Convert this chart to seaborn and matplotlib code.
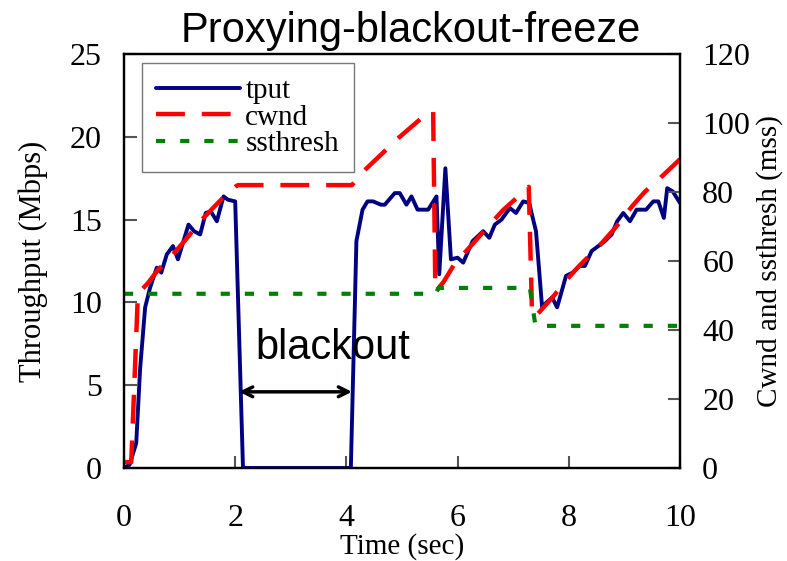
import matplotlib
matplotlib.use("Agg")
import matplotlib.pyplot as plt
import seaborn as sns

# ---- data ----
tput_t = [0, 0.1, 0.22, 0.29, 0.38, 0.47, 0.59, 0.67, 0.77, 0.88, 0.97, 1.16, 1.26,
          1.37, 1.47, 1.56, 1.67, 1.79, 1.87, 2.0, 2.14, 4.08, 4.18, 4.29, 4.38, 4.48,
          4.62, 4.69, 4.87, 4.96, 5.08, 5.17, 5.28, 5.47, 5.62, 5.67, 5.78, 5.88, 6.0,
          6.1, 6.27, 6.46, 6.57, 6.67, 6.79, 6.94, 7.05, 7.18, 7.29, 7.33, 7.41, 7.52,
          7.6, 7.7, 7.79, 7.95, 8.07, 8.19, 8.29, 8.41, 8.53, 8.65, 8.77, 8.87, 8.98,
          9.1, 9.22, 9.39, 9.52, 9.61, 9.71, 9.77, 9.87, 10.0]
tput_v = [0, 0.2, 1.5, 6.0, 9.7, 10.9, 12.1, 11.8, 12.9, 13.4, 12.6, 14.7, 14.3,
          14.1, 15.4, 15.5, 14.9, 16.4, 16.2, 16.1, 0, 0, 13.7, 15.6, 16.1, 16.1,
          15.9, 15.9, 16.6, 16.6, 15.9, 16.4, 15.6, 15.6, 16.4, 11.7, 18.1, 12.6, 12.7,
          12.4, 13.7, 14.3, 13.9, 14.7, 15.0, 15.7, 15.4, 16.1, 16.0, 15.4, 14.3, 9.7,
          10.0, 10.3, 9.7, 11.6, 11.8, 12.2, 12.2, 13.1, 13.4, 13.7, 14.1, 14.9, 15.4,
          14.9, 15.6, 15.6, 16.1, 16.1, 15.1, 16.9, 16.7, 16.0]

cwnd_t = [0, 0.13, 0.25, 0.43, 0.61, 0.83, 1.1, 1.4, 1.76, 2.0, 2.05, 4.1, 4.3, 4.66,
          4.96, 5.35, 5.56, 5.6, 5.75, 5.95, 6.28, 6.52, 6.82, 7.12, 7.28, 7.34, 7.42,
          7.72, 7.96, 8.2, 8.56, 8.83, 9.13, 9.37, 9.64, 10.0]
cwnd_v = [1.7, 1.7, 50.5, 53.6, 57.4, 61, 66, 72, 78, 81.5, 82, 82, 85.9, 91.4,
          96, 101.4, 103.5, 51, 54, 59.3, 65.1, 69.5, 74.8, 79.1, 81.5, 44, 44.3,
          49.7, 54.5, 58.8, 64.6, 69.5, 75.7, 80.1, 84, 89.5]

ssth_t = [0, 5.6, 5.66, 7.3, 7.4, 10.0]
ssth_v = [50.5, 50.5, 52.2, 52.2, 41.2, 41.2]

x_ticks = [0, 2, 4, 6, 8, 10]
left_ticks = [0, 5, 10, 15, 20, 25]
right_ticks = [0, 20, 40, 60, 80, 100, 120]

# ---- style ----
sns.set_style("ticks")
serif = ["Liberation Serif", "DejaVu Serif"]
sans = ["Liberation Sans", "DejaVu Sans"]
plt.rcParams["font.family"] = serif
plt.rcParams["text.color"] = "black"
plt.rcParams["axes.labelcolor"] = "black"

fig = plt.figure(figsize=(7.87, 5.61), dpi=100)
ax = fig.add_axes([124 / 787, 1 - 468 / 561, 556 / 787, 414 / 561])
ax2 = ax.twinx()

sns.lineplot(x=tput_t, y=tput_v, ax=ax, sort=False, estimator=None,
             color="#000080", linewidth=2.8, label="tput", legend=False)
sns.lineplot(x=cwnd_t, y=cwnd_v, ax=ax2, sort=False, estimator=None,
             color="#ff0000", linewidth=3.2, label="cwnd", legend=False)
sns.lineplot(x=ssth_t, y=ssth_v, ax=ax2, sort=False, estimator=None,
             color="#008000", linewidth=3.0, label="ssthresh", legend=False)

ax2.lines[0].set_linestyle((0, (6.5, 3.8)))
ax2.lines[1].set_linestyle((0, (2.2, 3.6)))
ax2.lines[0].set_dash_capstyle("butt")
ax2.lines[1].set_dash_capstyle("butt")

ax.set_xlim(0, 10)
ax.set_ylim(0, 25)
ax2.set_ylim(0, 120)
ax.set_xticks(x_ticks)
ax.set_yticks(left_ticks)
ax2.set_yticks(right_ticks)

for a in (ax, ax2):
    for s in a.spines.values():
        s.set_visible(True)
        s.set_linewidth(1.6)
        s.set_color("black")
ax.tick_params(axis="both", direction="in", length=9, width=1.5, labelsize=23,
               color="#555555", labelcolor="black", bottom=True, left=True)
ax.tick_params(axis="x", pad=26, top=False)
ax.tick_params(axis="y", pad=16, right=False)
ax2.tick_params(axis="y", direction="in", length=9, width=1.5, labelsize=23,
                pad=16, color="#555555", labelcolor="black", right=True)

ax.set_xlabel("Time (sec)", fontsize=21, labelpad=0)
ax.set_ylabel("Throughput (Mbps)", fontsize=22, labelpad=16)
ax2.set_ylabel("Cwnd and ssthresh (mss)", fontsize=21, labelpad=4)

fig.text(0.522, 0.925, "Proxying-blackout-freeze", fontsize=30, family=sans,
         ha="center", va="baseline", color="black")

# blackout annotation
ax.annotate("", xy=(2.07, 4.6), xytext=(4.1, 4.6),
            arrowprops=dict(arrowstyle="<->,head_length=0.7,head_width=0.35",
                            lw=2.5, color="black", shrinkA=0, shrinkB=0))
ax.text(2.36, 6.6, "blackout", fontsize=30, family=sans, va="baseline", ha="left",
        color="black")

handles = [ax.lines[0], ax2.lines[0], ax2.lines[1]]
leg = ax.legend(handles, ["tput", "cwnd", "ssthresh"], loc="upper left",
                bbox_to_anchor=(0.032, 0.978), borderaxespad=0, fontsize=21,
                handlelength=2.85, handletextpad=0.2, labelspacing=0.0,
                fancybox=False, frameon=True, borderpad=0.5)
leg.get_frame().set_edgecolor("#555555")
leg.get_frame().set_linewidth(1.0)
for t in leg.get_texts():
    t.set_color("black")

fig.savefig("out.png", dpi=100)
